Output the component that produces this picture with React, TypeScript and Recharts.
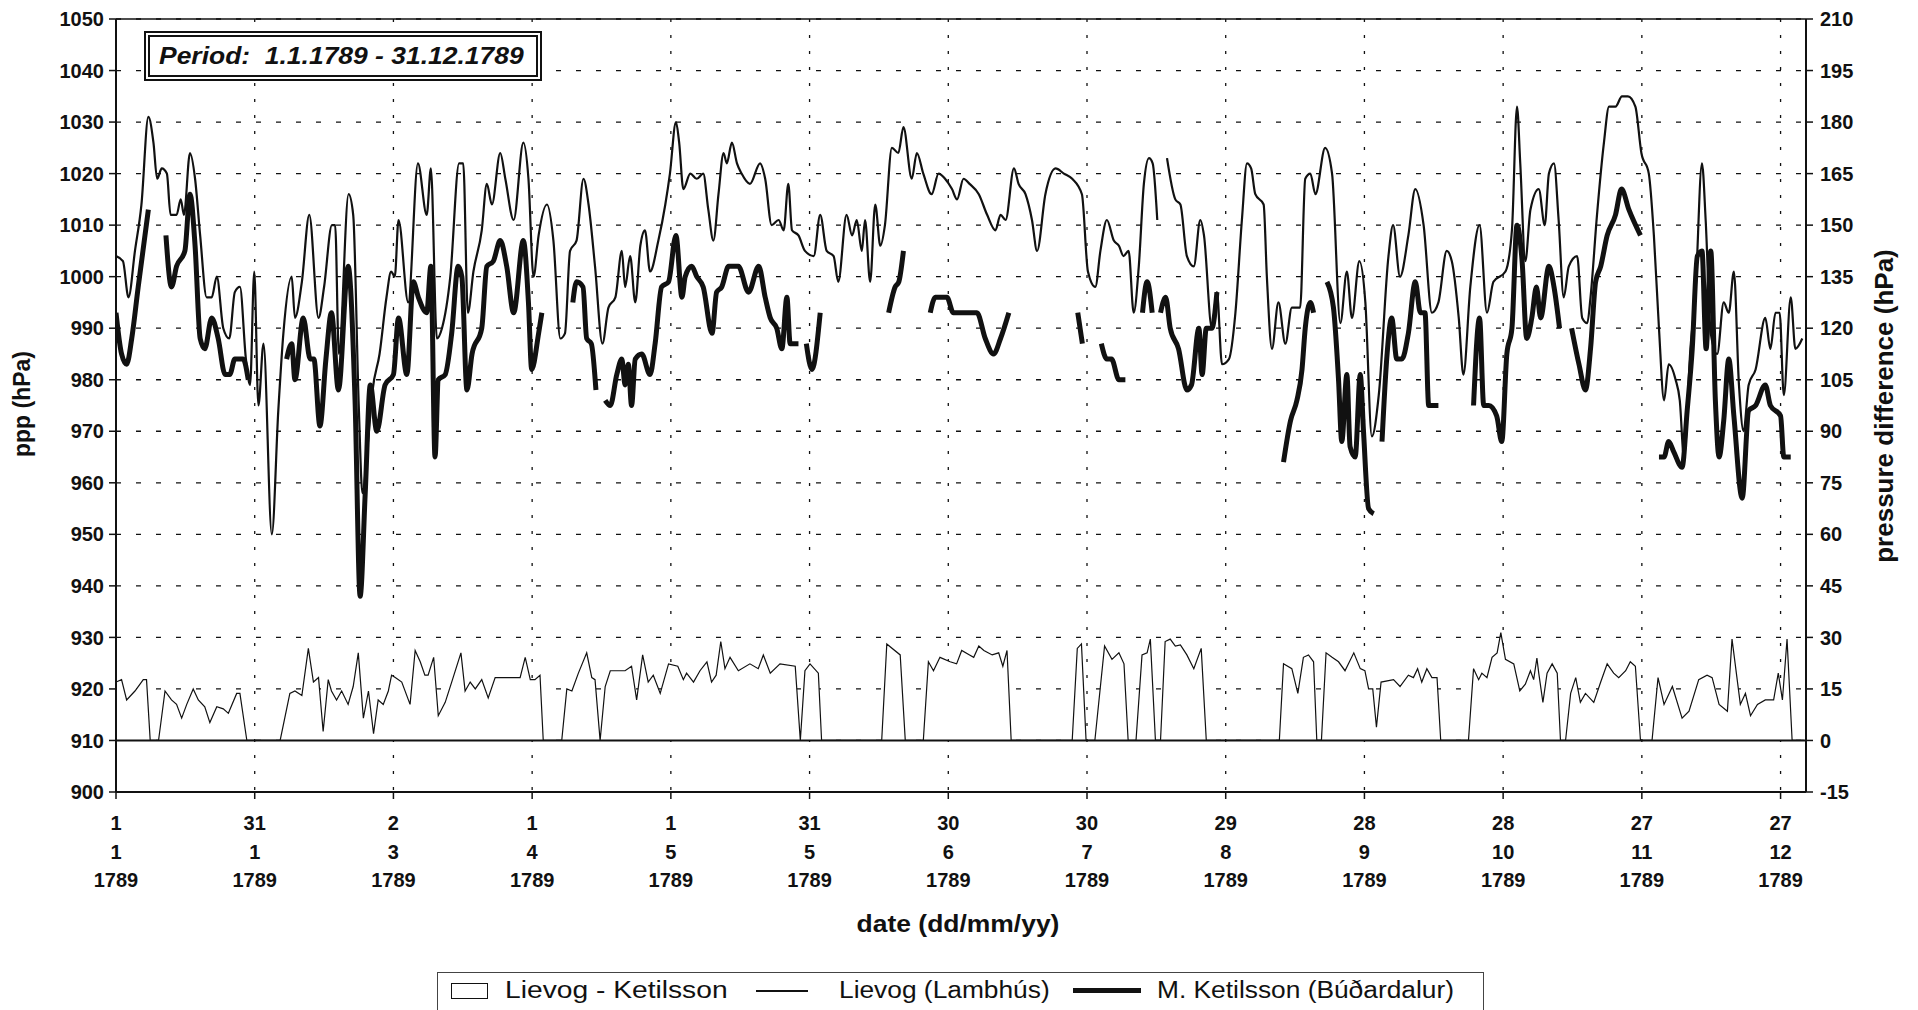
import React from 'react'
import { ComposedChart, Line, Area, XAxis, YAxis, CartesianGrid, ReferenceLine } from 'recharts'

const FONT = "'Liberation Sans', Arial, Helvetica, sans-serif"
const INK = '#111'

// day of year (0 = 1.1.1789), pressure in hPa
const lambhus: [number, number | null][] = [
  [0, 1004], [1.5, 1003], [2.7, 996], [4.1, 1005], [5.5, 1014], [7, 1031], [8.1, 1026], [8.9, 1019], [9.9, 1021], [11, 1020],
  [11.8, 1012], [13.1, 1012], [14, 1015], [14.7, 1012], [16, 1024], [17.1, 1019], [18.2, 1008], [19.6, 996], [20.7, 996], [21.8, 1000],
  [23.2, 990], [24.5, 988], [25.7, 997], [26.8, 998], [28.1, 984], [29, 979], [29.9, 1001], [30.8, 975], [31.9, 987], [33.7, 950],
  [35.1, 974], [36.2, 989], [38, 1000], [38.7, 992], [40.2, 999], [41.8, 1012], [43.8, 992], [45, 998], [46.7, 1010], [47.4, 1010],
  [48.2, 985], [50.3, 1016], [51.3, 1012], [52.5, 975], [53.3, 958], [54.5, 968], [55.5, 978], [57, 985], [58.5, 996], [59.5, 1001],
  [60.3, 1000], [61.1, 1011], [63.2, 995], [65.3, 1022], [67.2, 1012], [68.1, 1021], [69.4, 988], [70.5, 990], [72.3, 1000], [74.2, 1022],
  [75.1, 1022], [76.1, 993], [77.3, 1001], [79.1, 1009], [80.2, 1018], [81.3, 1014], [83.1, 1024], [84.2, 1019], [86, 1011], [88.1, 1026],
  [89.2, 1019], [90.3, 1000], [91.4, 1008], [93.2, 1014], [94.6, 1007], [96.1, 988], [97.1, 989], [98.2, 1005], [99.6, 1007], [101.1, 1019],
  [102.2, 1014], [103.6, 1002], [105.2, 987], [106.5, 994], [108, 996], [109.4, 1005], [110.1, 998], [111.2, 1004], [112.3, 995], [113.4, 1006],
  [114.4, 1009], [115.5, 1001], [117.3, 1007], [118.8, 1014], [119.8, 1020], [121.1, 1030], [121.8, 1026], [122.7, 1017], [124.2, 1020], [125.6, 1019],
  [127, 1020], [128.1, 1013], [129.2, 1007], [130.3, 1016], [131.4, 1024], [132.1, 1022], [133.2, 1026], [134.3, 1022], [135.3, 1020], [137.1, 1018],
  [139.3, 1022], [140.4, 1019], [141.8, 1010], [143.3, 1011], [144.4, 1009], [145.4, 1018], [146.2, 1009], [147.6, 1008], [149, 1005], [150.9, 1004],
  [152.3, 1012], [153.7, 1005], [155.2, 1004], [156.2, 999], [158, 1012], [159.2, 1008], [160.2, 1011], [161.3, 1005], [162, 1011], [163.1, 999],
  [164.2, 1014], [165.3, 1006], [166.3, 1010], [167.8, 1025], [169.2, 1024], [170.3, 1029], [172.1, 1019], [173.2, 1024], [174.6, 1020], [176.4, 1016],
  [177.9, 1020], [179.3, 1019], [180.8, 1017], [181.9, 1015], [183.3, 1019], [184.6, 1018], [186.6, 1016], [188.4, 1012], [190.2, 1009], [191.3, 1012],
  [192.4, 1011], [194.2, 1021], [195.2, 1018], [196.7, 1016], [198.1, 1011], [199.2, 1005], [201, 1016], [203.2, 1021], [205, 1020], [206.8, 1019],
  [208.9, 1016], [210.2, 1001], [211.8, 998], [212.9, 1005], [214.3, 1011], [215.8, 1007], [216.9, 1006], [217.9, 1004], [219, 1005], [220.1, 993],
  [221.2, 1002], [222.3, 1018], [223.4, 1023], [224.2, 1022], [225.2, 1011], [226.2, null], [227.3, 1023], [229.1, 1015], [230.2, 1014], [231.6, 1004],
  [233.1, 1002], [234.5, 1011], [235.3, 1008], [237, 990], [238.1, 997], [239.2, 983], [240.7, 984], [242.1, 993], [243.5, 1011], [244.6, 1022],
  [245.5, 1021], [246.4, 1016], [248.2, 1014], [248.9, 1000], [250, 986], [251.4, 995], [252.9, 987], [254.3, 994], [256.1, 994], [257.2, 1019],
  [258.3, 1020], [259.4, 1016], [261.5, 1025], [263, 1020], [264.8, 991], [266.2, 1001], [267.3, 992], [268.9, 1003], [270.2, 995], [271.6, 969],
  [273.1, 977], [275.2, 1004], [276.2, 1010], [277.7, 1000], [279.5, 1008], [281, 1017], [282.8, 1010], [284.6, 993], [286, 995], [287.8, 1005],
  [288.9, 1003], [290.4, 992], [291.4, 981], [292.9, 998], [294.9, 1010], [296.5, 993], [297.9, 999], [300.5, 1001], [301.9, 1009], [303, 1033],
  [303.7, 1022], [304.8, 1003], [305.9, 1013], [307.7, 1017], [309, 1010], [309.9, 1020], [311, 1022], [312, 1011], [313.1, 996], [314.2, 1002],
  [316, 1004], [317.1, 992], [318.2, 991], [318.9, 996], [320.3, 1012], [321.8, 1026], [322.9, 1033], [324.3, 1033], [325.7, 1035], [327, 1035],
  [328.6, 1033], [329.9, 1024], [331.5, 1020], [332.6, 1008], [333.7, 990], [334.8, 976], [335.8, 983], [337.3, 980], [338.2, 976], [339.1, 965],
  [340.5, 986], [341.6, 997], [343, 1022], [343.8, 1011], [344.9, 989], [346.3, 985], [347.7, 995], [348.8, 993], [349.9, 1001], [351, 979],
  [352, 970], [353.1, 979], [354.6, 982], [356.7, 992], [357.8, 986], [358.9, 993], [359.8, 993], [360.7, 977], [362.2, 996], [363.2, 986],
  [364.7, 988],
]

// null = no observation (line breaks)
const ketilsson: [number, number | null][] = [
  [0, 993], [1.2, 985], [2.3, 983], [3.4, 988], [4.8, 998], [7, 1013], [8.5, null],
  [10.8, 1008], [12, 998], [13.1, 1002], [14.9, 1005], [16, 1016], [17.1, 1006], [18.2, 988], [19.2, 986], [20.7, 992], [22.1, 988],
  [23.6, 981], [24.6, 981], [25.7, 984], [27.5, 984], [28.6, 980], [32, null],
  [36.9, 984], [38, 987], [38.7, 980], [40.5, 992], [42, 984], [42.8, 984], [44.1, 971], [45.4, 984], [46.6, 993], [48.1, 978],
  [50.2, 1002], [51.7, 976], [52.8, 938], [53.9, 958], [55, 979], [56.4, 970], [58.2, 979], [60, 981], [61.1, 992], [62.9, 981],
  [64.3, 999], [65.4, 996], [67.2, 993], [68.1, 1002], [69, 965], [69.7, 980], [71.2, 981], [72.6, 989], [74, 1002], [74.8, 1000],
  [75.9, 978], [77, 985], [79.1, 990], [80.2, 1002], [81.6, 1003], [83.1, 1007], [84.5, 1002], [86, 993], [88.1, 1007], [89.2, 995],
  [89.9, 982], [91.4, 989], [92.1, 993], [95, null],
  [98.8, 995], [99.6, 999], [101, 998], [101.8, 988], [102.8, 987], [103.8, 978], [104.8, null],
  [105.8, 976], [106.9, 975], [108.3, 981], [109.4, 984], [110.1, 979], [110.8, 983], [111.5, 975], [112.3, 984], [113.7, 985], [115.5, 981],
  [116.6, 987], [118, 998], [119.5, 999], [121.1, 1008], [122.4, 996], [123.1, 1000], [124.5, 1002], [125.6, 1000], [127, 998], [128.9, 989],
  [129.9, 997], [131, 998], [132.5, 1002], [134.6, 1002], [136.8, 997], [139, 1002], [140.4, 996], [141.5, 992], [142.9, 990], [144, 986],
  [145.1, 996], [145.8, 987], [147.6, 987], [148.4, null],
  [149.3, 987], [150.5, 982], [152.3, 993], [160, null],
  [167.1, 993], [168.5, 998], [169.3, 999], [170.3, 1005], [173, null],
  [176.1, 993], [177.2, 996], [179.7, 996], [181.1, 993], [184.6, 993], [186.2, 993], [188, 988], [189.8, 985], [191.3, 988], [193.1, 993], [200, null],
  [208, 993], [209, 987], [211, null],
  [213.1, 987], [214.3, 984], [215.3, 984], [216.9, 980], [218.3, 980], [220, null],
  [222, 993], [223, 999], [224.1, 993], [225, null],
  [225.9, 993], [227, 996], [228, 990], [229.8, 986], [231.6, 978], [232.6, 979], [234.2, 990], [234.9, 981], [235.8, 990], [237, 990],
  [238.1, 997], [245, null],
  [252.5, 964], [254, 972], [255.4, 976], [256.5, 982], [257.2, 990], [258.3, 995], [259, 993], [260.5, null],
  [261.9, 999], [263.3, 994], [264.4, 980], [265.1, 968], [266.2, 981], [266.9, 967], [268, 965], [269.1, 981], [269.8, 970], [270.9, 955],
  [272, 954], [273, null],
  [273.8, 968], [274.9, 985], [275.9, 992], [277, 984], [278.1, 984], [279.5, 989], [281, 999], [282.1, 993], [283.1, 993], [283.9, 975],
  [286, 975], [290, null],
  [293.6, 975], [294.9, 992], [295.8, 975], [296.9, 975], [298.6, 973], [299.7, 968], [300.8, 985], [301.9, 990], [303, 1010], [304.1, 1003],
  [305.1, 988], [306.2, 992], [307.2, 998], [308.1, 992], [309.9, 1002], [311, 998], [312.2, 990], [313.5, null],
  [314.8, 990], [316.4, 983], [317.8, 978], [318.9, 986], [320, 999], [321.1, 1002], [322.5, 1008], [324.3, 1012], [325.6, 1017], [327.2, 1013],
  [329.7, 1008], [331.5, null],
  [333.7, 965], [334.8, 965], [335.8, 968], [336.9, 966], [338.7, 963], [339.8, 974], [340.9, 986], [342, 1004], [343, 1005], [343.9, 986],
  [344.9, 1005], [345.9, 976], [346.7, 965], [347.7, 972], [348.8, 984], [349.9, 973], [351.7, 957], [353.1, 974], [354.6, 975], [356.7, 979],
  [357.8, 975], [360, 973], [360.7, 965], [362.2, 965],
]

// Lievog - Ketilsson, hPa (0 where one record is missing)
const difference: [number, number][] = [
  [0, 17], [1.2, 17.7], [2.3, 11.8], [4.1, 14.4], [5.9, 17.7], [6.6, 17.7], [7.4, 0], [9.2, 0], [10.6, 14.4], [12, 11.8],
  [13.1, 10.5], [14.2, 6.5], [15.3, 10.5], [16.7, 15], [17.8, 11.8], [19.2, 9.8], [20.3, 5.2], [21.8, 9.8], [23.2, 9.2], [24.3, 7.9],
  [26.1, 13.7], [26.8, 13.7], [28.3, 0], [35.5, 0], [37.6, 13.7], [38.7, 14.4], [40.2, 13.1], [41.6, 26.8], [42.7, 17], [43.8, 18.3],
  [44.8, 2.6], [45.9, 17.7], [46.6, 14.4], [47.7, 11.8], [48.8, 14.4], [50.2, 10.5], [51.3, 15.7], [52.4, 25.5], [53.5, 6.5], [54.6, 14.4],
  [55.7, 2], [56.7, 11.8], [57.8, 10.5], [58.9, 14.4], [59.6, 19], [60.4, 18.3], [61.8, 17], [63.6, 10.5], [64.7, 26.2], [65.8, 22.9],
  [66.8, 19], [67.5, 19], [68.7, 24.2], [69.7, 7.2], [71.2, 11.1], [72.6, 17], [74.6, 25.5], [75.5, 14.4], [76.6, 17], [77.7, 15],
  [79.1, 17.7], [80.5, 12.4], [82, 18.3], [84.2, 18.3], [85.6, 18.3], [87.4, 18.3], [88.5, 24.2], [89.6, 17.7], [90.6, 17.7], [91.7, 19],
  [92.4, 0], [96.4, 0], [97.5, 15], [98.6, 14.4], [100, 19.6], [101.8, 25.5], [102.9, 18.3], [103.6, 17.7], [104.7, 0], [105.8, 15.7],
  [106.9, 20.3], [108.3, 20.3], [110.1, 20.3], [111.5, 21.6], [112.6, 11.8], [113.9, 24.9], [115.1, 17], [116.2, 19], [117.7, 13.7], [119.5, 22.3],
  [121.5, 21.6], [122.7, 17.7], [123.4, 19.6], [124.9, 17], [126.3, 20.3], [127.8, 22.9], [128.8, 17], [129.8, 19], [130.8, 28.8], [131.7, 20.9],
  [132.8, 24.2], [134.6, 20.3], [137.1, 22.3], [138.9, 20.9], [140, 24.9], [141.5, 19.6], [143.6, 22.3], [146.9, 21.6], [148, 0], [149, 20.3],
  [150.1, 22.3], [151.9, 19.6], [152.6, 0], [165.6, 0], [166.7, 28.1], [169.6, 24.9], [170.7, 0], [174.6, 0], [175.7, 22.9], [176.8, 20.3],
  [178.2, 24.2], [180.4, 22.9], [181.8, 22.3], [182.9, 26.2], [184.6, 24.9], [185.5, 24.2], [186.6, 27.5], [187.7, 26.2], [189.5, 24.9], [190.9, 25.5],
  [191.8, 21.6], [192.7, 26.2], [193.6, 0], [206.8, 0], [207.9, 26.8], [208.8, 28.1], [209.8, 0], [211.7, 0], [213.8, 27.5], [215.4, 23.6],
  [216.9, 25.5], [218, 22.3], [218.9, 0], [220.6, 0], [221.9, 24.9], [223, 25.5], [223.7, 29.5], [224.8, 0], [225.9, 0], [226.9, 28.8],
  [228, 29.5], [229.1, 27.5], [230.2, 27.8], [231.6, 24.9], [233.1, 20.9], [234.7, 26.8], [235.8, 0], [251.6, 0], [252.5, 22.3], [254.3, 20.9],
  [255.6, 13.7], [256.8, 24.2], [257.9, 24.9], [259, 22.9], [259.7, 0], [260.7, 0], [261.7, 25.5], [263, 24.2], [264.4, 22.9], [265.8, 20.3],
  [267.7, 25.5], [269.1, 20.9], [270.1, 20.3], [270.9, 15], [271.8, 15], [272.6, 3.9], [273.6, 17], [276.3, 17.7], [277.7, 15.7], [279.5, 19],
  [280.6, 18.3], [281.5, 20.9], [282.4, 17], [283.5, 20.9], [284.6, 18.3], [285.7, 18.3], [286.5, 0], [292.5, 0], [293.6, 20.9], [294.7, 17.7],
  [295.4, 19.6], [296.5, 18.3], [297.6, 24.2], [298.7, 25.5], [299.5, 31.4], [300.5, 23.6], [302.3, 22.3], [303.6, 14.4], [304.8, 16.4], [305.9, 20.3],
  [306.6, 17.7], [307.3, 24], [307.7, 19.6], [308.6, 11.1], [309.5, 19.6], [310.6, 22.3], [311.7, 19.6], [312.4, 0], [313.5, 0], [314.6, 13.7],
  [315.7, 18.3], [316.7, 11.1], [317.8, 13.7], [319.6, 11.1], [321.1, 17], [322.5, 22.3], [323.9, 19.6], [325, 18.3], [326.5, 20.3], [327.5, 22.9],
  [328.6, 21.6], [329.7, 0], [332.2, 0], [333.5, 18.3], [334.8, 10.5], [336.6, 15.7], [338.7, 6.5], [340.2, 8.5], [342.3, 17.7], [344.1, 19],
  [345.2, 18.3], [346.7, 10.5], [348.5, 8.5], [349.5, 29.5], [351.3, 10.5], [352.4, 13.7], [353.5, 7.2], [355, 10.5], [356.7, 11.8], [358.5, 11.8],
  [359.5, 19.6], [360.4, 11.8], [361.4, 29.5], [362.5, 0], [365, 0],
]

const tickDays = [0, 30, 60, 90, 120, 150, 180, 210, 240, 270, 300, 330, 360]
const tickDd = ['1', '31', '2', '1', '1', '31', '30', '30', '29', '28', '28', '27', '27']
const tickMm = ['1', '1', '3', '4', '5', '5', '6', '7', '8', '9', '10', '11', '12']
const tickYy = ['1789', '1789', '1789', '1789', '1789', '1789', '1789', '1789', '1789', '1789', '1789', '1789', '1789']
const pppTicks = [900, 910, 920, 930, 940, 950, 960, 970, 980, 990, 1000, 1010, 1020, 1030, 1040, 1050]
const diffTicks = [-15, 0, 15, 30, 45, 60, 75, 90, 105, 120, 135, 150, 165, 180, 195, 210]

const lambhusData = lambhus.map(([day, v]) => ({ day, ppp: v }))
const ketilssonData = ketilsson.map(([day, v]) => ({ day, ppp: v }))
const diffData = difference.map(([day, v]) => ({ day, diff: v }))

function DateTick(props: any) {
  const { x, y, payload } = props
  const i = tickDays.indexOf(payload.value)
  return (
    <g transform={`translate(${x},${y})`}>
      <text textAnchor="middle" fill={INK} fontFamily={FONT} fontSize={20} fontWeight="bold">
        <tspan x={0} dy={31}>{tickDd[i]}</tspan>
        <tspan x={0} dy={29}>{tickMm[i]}</tspan>
        <tspan x={0} dy={28}>{tickYy[i]}</tspan>
      </text>
    </g>
  )
}

const tickStyle = { fontSize: 20, fontWeight: 'bold', fill: INK, fontFamily: FONT }

export default function App() {
  return (
    <div style={{ position: 'absolute', left: 0, top: 0, width: 1918, height: 1010, background: '#fff', overflow: 'hidden', fontFamily: FONT, color: INK }}>
      <ComposedChart width={1918} height={1010} margin={{ top: 19, right: 0, bottom: 118, left: 0 }}>
        <XAxis
          dataKey="day"
          type="number"
          domain={[0, 365.5]}
          ticks={tickDays}
          interval={0}
          allowDataOverflow
          height={100}
          tickSize={7}
          tickMargin={0}
          tick={<DateTick />}
          axisLine={{ stroke: INK, strokeWidth: 2 }}
          tickLine={{ stroke: INK, strokeWidth: 1.5 }}
        />
        <YAxis
          yAxisId="left"
          orientation="left"
          type="number"
          width={116}
          domain={[900, 1050]}
          ticks={pppTicks}
          interval={0}
          allowDataOverflow
          tickSize={7}
          tickMargin={5}
          tick={tickStyle}
          axisLine={{ stroke: INK, strokeWidth: 2 }}
          tickLine={{ stroke: INK, strokeWidth: 1.5 }}
        />
        <YAxis
          yAxisId="right"
          orientation="right"
          type="number"
          width={112}
          domain={[-15, 210]}
          ticks={diffTicks}
          interval={0}
          allowDataOverflow
          tickSize={7}
          tickMargin={7}
          tick={{ ...tickStyle, textAnchor: 'start' }}
          axisLine={{ stroke: INK, strokeWidth: 2 }}
          tickLine={{ stroke: INK, strokeWidth: 1.5 }}
        />
        <CartesianGrid yAxisId="left" vertical={false} stroke={INK} strokeWidth={1.3} strokeDasharray="5 15" />
        <CartesianGrid yAxisId="left" horizontal={false} stroke={INK} strokeWidth={1.3} strokeDasharray="3 13" />
        <ReferenceLine yAxisId="left" y={1050} stroke={INK} strokeWidth={1.5} />

        <Area
          data={diffData}
          dataKey="diff"
          yAxisId="right"
          type="linear"
          stroke={INK}
          strokeWidth={1.2}
          fill="#fff"
          fillOpacity={1}
          baseValue={0}
          dot={false}
          activeDot={false}
          isAnimationActive={false}
        />
        <ReferenceLine yAxisId="right" y={0} stroke={INK} strokeWidth={2} />

        <Line
          data={lambhusData}
          dataKey="ppp"
          yAxisId="left"
          type="monotone"
          stroke={INK}
          strokeWidth={2.2}
          dot={false}
          activeDot={false}
          connectNulls={false}
          isAnimationActive={false}
        />
        <Line
          data={ketilssonData}
          dataKey="ppp"
          yAxisId="left"
          type="monotone"
          stroke={INK}
          strokeWidth={5}
          strokeLinejoin="round"
          dot={false}
          activeDot={false}
          connectNulls={false}
          isAnimationActive={false}
        />
      </ComposedChart>

      {/* period box */}
      <div style={{ position: 'absolute', left: 144, top: 31, width: 398, height: 50, boxSizing: 'border-box', border: `6px double ${INK}`, background: '#fff', display: 'flex', alignItems: 'center' }}>
        <span style={{ marginLeft: 9, fontSize: 23, fontWeight: 'bold', fontStyle: 'italic', whiteSpace: 'pre', display: 'inline-block', transform: 'scaleX(1.15)', transformOrigin: 'left center' }}>
          {'Period:  1.1.1789 - 31.12.1789'}
        </span>
      </div>

      {/* axis titles */}
      <div style={{ position: 'absolute', left: 22, top: 404, transform: 'translate(-50%, -50%) rotate(-90deg)', fontSize: 23, fontWeight: 'bold', whiteSpace: 'nowrap' }}>
        ppp (hPa)
      </div>
      <div style={{ position: 'absolute', left: 1884, top: 406, transform: 'translate(-50%, -50%) rotate(-90deg)', fontSize: 26, fontWeight: 'bold', whiteSpace: 'nowrap' }}>
        pressure difference (hPa)
      </div>
      <div style={{ position: 'absolute', left: 958, top: 924, transform: 'translate(-50%, -50%) scaleX(1.15)', fontSize: 23, fontWeight: 'bold', whiteSpace: 'nowrap' }}>
        date (dd/mm/yy)
      </div>

      {/* legend */}
      <div style={{ position: 'absolute', left: 437, top: 972, width: 1047, height: 60, boxSizing: 'border-box', border: '1.5px solid #444', background: '#fff' }}>
        <div style={{ position: 'absolute', left: 13, top: 10, width: 37, height: 16, boxSizing: 'border-box', border: `1.5px solid ${INK}`, background: '#fff' }} />
        <span style={{ position: 'absolute', left: 67, top: 4, fontSize: 23.5, whiteSpace: 'nowrap', display: 'inline-block', transform: 'scaleX(1.2)', transformOrigin: 'left center' }}>
          Lievog - Ketilsson
        </span>
        <div style={{ position: 'absolute', left: 318, top: 17, width: 52, height: 2, background: INK }} />
        <span style={{ position: 'absolute', left: 401, top: 4, fontSize: 23.5, whiteSpace: 'nowrap', display: 'inline-block', transform: 'scaleX(1.12)', transformOrigin: 'left center' }}>
          Lievog (Lambhús)
        </span>
        <div style={{ position: 'absolute', left: 635, top: 15, width: 68, height: 5, background: INK }} />
        <span style={{ position: 'absolute', left: 719, top: 4, fontSize: 23.5, whiteSpace: 'nowrap', display: 'inline-block', transform: 'scaleX(1.12)', transformOrigin: 'left center' }}>
          M. Ketilsson (Búðardalur)
        </span>
      </div>
    </div>
  )
}
